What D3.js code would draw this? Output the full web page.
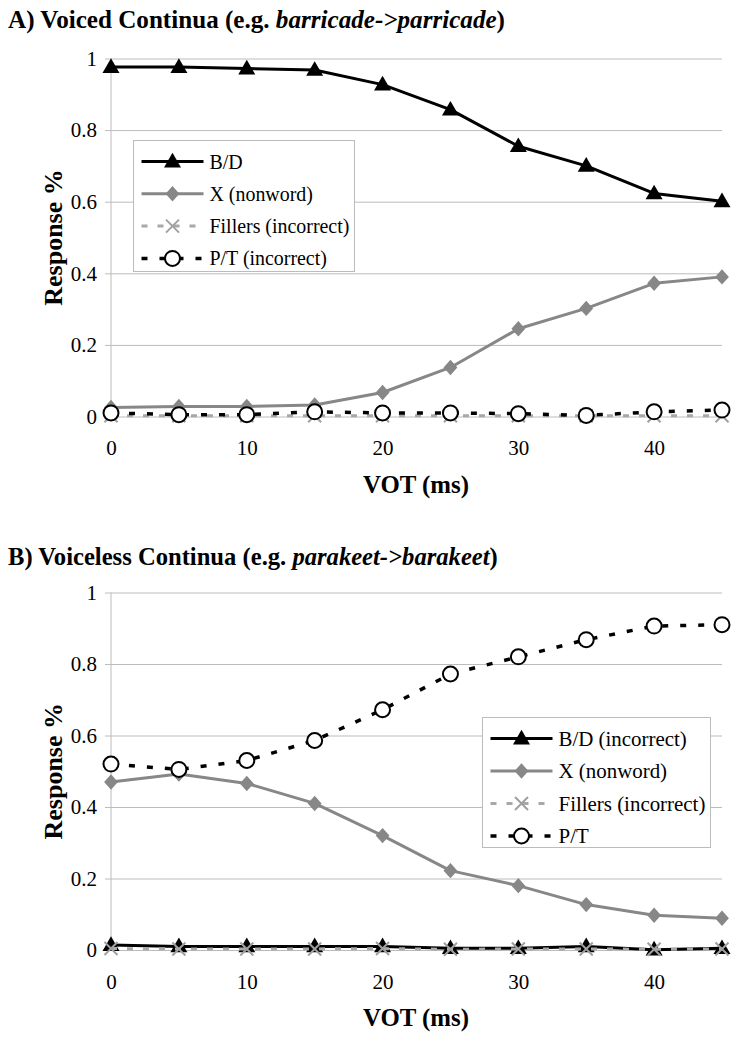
<!DOCTYPE html>
<html><head><meta charset="utf-8">
<script src="https://cdn.jsdelivr.net/npm/d3@7"></script>
</head><body style="margin:0">
<svg id="c" width="746" height="1044"></svg>
<script>
const vot = [0,5,10,15,20,25,30,35,40,45];
const xTicks = [0,10,20,30,40];
const yTicks = [0,0.2,0.4,0.6,0.8,1];
const yTickLabels = ["0","0.2","0.4","0.6","0.8","1"];

// Panel A: Voiced continua
const aBD      = [0.976,0.976,0.972,0.968,0.927,0.857,0.755,0.700,0.623,0.601];
const aX       = [0.025,0.028,0.028,0.032,0.067,0.137,0.245,0.302,0.372,0.390];
const aFillers = [0.002,0.002,0.002,0.002,0.002,0.002,0.002,0.002,0.002,0.002];
const aPT      = [0.010,0.005,0.005,0.013,0.010,0.010,0.008,0.003,0.013,0.018];
const aLegend  = ["B/D","X (nonword)","Fillers (incorrect)","P/T (incorrect)"];

// Panel B: Voiceless continua
const bBD      = [0.014,0.010,0.010,0.010,0.010,0.005,0.005,0.010,0.001,0.005];
const bX       = [0.470,0.492,0.466,0.410,0.320,0.222,0.180,0.127,0.097,0.089];
const bFillers = [0.004,0.003,0.003,0.003,0.004,0.002,0.003,0.003,0.002,0.003];
const bPT      = [0.520,0.505,0.530,0.586,0.672,0.772,0.820,0.868,0.906,0.910];
const bLegend  = ["B/D (incorrect)","X (nonword)","Fillers (incorrect)","P/T"];

const svg = d3.select("#c").style("background","#fff");
const FONT = "Liberation Serif, Times New Roman, serif";
function ff(sel){ return sel.style("font-family", FONT); }
// shrink a text's font size until it fits a width
function fit(sel, maxW, size) {
  sel.attr("font-size", size);
  const n = sel.node();
  const w = n.getComputedTextLength();
  if (w > maxW) sel.attr("font-size", size * maxW / w);
  return sel;
}

const styles = [
  {stroke:"#000", width:3, dash:null, marker:"tri"},
  {stroke:"#878787", width:3, dash:null, marker:"dia"},
  {stroke:"#a8a8a8", width:3, dash:"6,10", marker:"x"},
  {stroke:"#000", width:3.5, dash:"6,12", marker:"circ"}
];

function drawMarker(g, type, x, y) {
  if (type === "tri") {
    g.append("path").attr("d", d3.symbol(d3.symbolTriangle, 125)())
      .attr("transform", `translate(${x},${y+1})`).attr("fill","#000");
  } else if (type === "dia") {
    g.append("path").attr("d", d3.symbol(d3.symbolSquare, 95)())
      .attr("transform", `translate(${x},${y}) scale(1,1.12) rotate(45)`).attr("fill","#878787");
  } else if (type === "x") {
    const p = d3.path(); const s = 6.5;
    p.moveTo(x-s,y-s); p.lineTo(x+s,y+s); p.moveTo(x+s,y-s); p.lineTo(x-s,y+s);
    g.append("path").attr("d", p.toString()).attr("stroke","#a0a0a0").attr("stroke-width",2).attr("fill","none");
  } else {
    g.append("circle").attr("cx",x).attr("cy",y).attr("r",7.5)
      .attr("fill","#fff").attr("stroke","#000").attr("stroke-width",2);
  }
}

function panel(opts) {
  const {title, italicPart, titleEnd, titleY, titleW, top, bottom, series, legend, lg} = opts;
  const x = d3.scaleLinear().domain([0,45]).range([111,722]);
  const y = d3.scaleLinear().domain([0,1]).range([bottom, top]);
  const g = svg.append("g");

  // title
  const t = ff(g.append("text")).attr("x",8).attr("y",titleY)
    .attr("font-weight","bold").attr("fill","#000");
  t.append("tspan").text(title);
  t.append("tspan").attr("font-style","italic").text(italicPart);
  t.append("tspan").text(titleEnd);
  fit(t, titleW, 26);

  // gridlines + y axis
  const yAxis = d3.axisLeft(y).tickValues(yTicks).tickSize(-(722-105)).tickSizeOuter(0)
    .tickFormat((d,i)=>yTickLabels[i]).tickPadding(8);
  const ya = g.append("g").attr("transform","translate(105,0)").call(yAxis);
  ya.attr("font-family", null);
  ya.select(".domain").remove();
  ya.selectAll(".tick line").attr("stroke","#bcbcbc").attr("stroke-width",1);
  ff(ya.selectAll(".tick text")).attr("font-size",21).attr("fill","#000").attr("x",-8);
  g.append("line").attr("x1",111).attr("x2",111).attr("y1",top).attr("y2",bottom)
    .attr("stroke","#bcbcbc").attr("stroke-width",1);

  // x axis labels
  const xAxis = d3.axisBottom(x).tickValues(xTicks).tickSize(0).tickPadding(24);
  const xa = g.append("g").attr("transform",`translate(0,${bottom})`).call(xAxis);
  xa.attr("font-family", null);
  xa.select(".domain").remove();
  ff(xa.selectAll(".tick text")).attr("font-size",21).attr("fill","#000");

  // axis titles
  const yt = ff(g.append("text")).attr("transform",`translate(62,${(top+bottom)/2}) rotate(-90)`)
    .attr("text-anchor","middle").attr("font-weight","bold").text("Response %");
  fit(yt, 142, 26);
  const xt = ff(g.append("text")).attr("x",416).attr("y",bottom+76).attr("text-anchor","middle")
    .attr("font-weight","bold").text("VOT (ms)");
  fit(xt, 106, 26);

  // legend box
  const lgG = g.append("g");
  lgG.append("rect").attr("x",lg.x).attr("y",lg.y).attr("width",lg.w).attr("height",lg.h)
    .attr("fill","#fff").attr("stroke","#bcbcbc").attr("stroke-width",1);

  // series
  const line = d3.line().x((d,i)=>x(vot[i])).y(d=>y(d));
  series.forEach((s,k) => {
    const st = styles[k];
    g.append("path").datum(s).attr("d",line).attr("fill","none")
      .attr("stroke",st.stroke).attr("stroke-width",st.width)
      .attr("stroke-dasharray",st.dash).attr("stroke-linejoin","round");
    const mg = g.append("g");
    s.forEach((v,i)=>drawMarker(mg, st.marker, x(vot[i]), y(v)));
  });

  // legend entries (drawn on top)
  lgG.raise();
  const texts = [];
  legend.forEach((name,k) => {
    const st = styles[k];
    const cy = lg.y + lg.row0 + k*lg.dy;
    const x1 = lg.x + 8, x2 = lg.x + 70;
    lgG.append("line").attr("x1",x1).attr("x2",x2).attr("y1",cy).attr("y2",cy)
      .attr("stroke",st.stroke).attr("stroke-width",st.width).attr("stroke-dasharray",st.dash);
    drawMarker(lgG, st.marker, (x1+x2)/2, cy);
    texts.push(ff(lgG.append("text")).attr("x",lg.x+76).attr("y",cy+7)
      .attr("font-size",22).attr("fill","#000").text(name));
  });
  // common legend font size so the widest entry fits in the box
  const maxW = lg.w - 76 - 5;
  const widest = d3.max(texts, s => s.node().getComputedTextLength());
  if (widest > maxW) texts.forEach(s => s.attr("font-size", 22 * maxW / widest));
}

panel({title:"A) Voiced Continua (e.g. ", italicPart:"barricade->parricade", titleEnd:")",
  titleY:28, titleW:497, top:58.5, bottom:416.5, series:[aBD,aX,aFillers,aPT], legend:aLegend,
  lg:{x:133.5, y:140.5, w:221, h:131, row0:21, dy:32.3}});
panel({title:"B) Voiceless Continua (e.g. ", italicPart:"parakeet->barakeet", titleEnd:")",
  titleY:565, titleW:490, top:592.5, bottom:950, series:[bBD,bX,bFillers,bPT], legend:bLegend,
  lg:{x:482.5, y:717.5, w:228, h:130, row0:21, dy:32.5}});
</script>
</body></html>
